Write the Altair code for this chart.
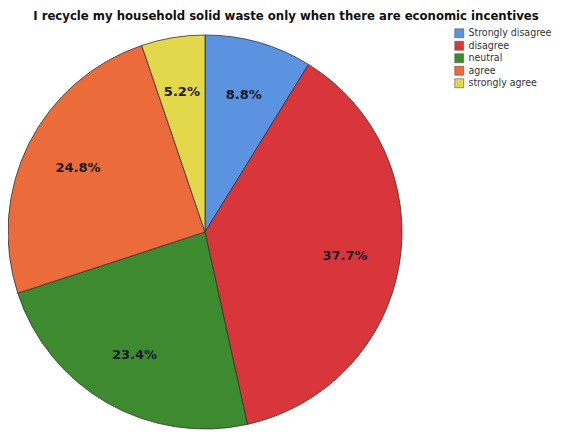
import altair as alt
import pandas as pd

categories = ["Strongly disagree", "disagree", "neutral", "agree", "strongly agree"]
percents = [8.8, 37.7, 23.4, 24.8, 5.2]
colors = ["#5b93e0", "#d8363a", "#3e8a2f", "#ec6b3b", "#e3d74c"]

df = pd.DataFrame({
    "category": categories,
    "percent": percents,
    "order": list(range(len(categories))),
})
df["label"] = df["percent"].map(lambda v: f"{v:.1f}%")

CX, CY, R = 197, 224, 197

base = alt.Chart(df).encode(
    theta=alt.Theta("percent:Q", stack=True),
    order=alt.Order("order:Q", sort="ascending"),
)

arcs = base.mark_arc(radius=R, stroke="#333333", strokeWidth=0.8).encode(
    x=alt.value(CX),
    y=alt.value(CY),
    color=alt.Color(
        "category:N",
        sort=categories,
        scale=alt.Scale(domain=categories, range=colors),
        legend=alt.Legend(
            title=None,
            orient="none",
            legendX=446,
            legendY=20,
            symbolType="square",
            symbolSize=80,
            symbolStrokeColor="#555555",
            symbolStrokeWidth=0.6,
            labelFontSize=10.5,
            labelFont="DejaVu Sans Condensed",
            labelColor="#333333",
            rowPadding=0.5,
            labelLimit=200,
        ),
    ),
)

labels = base.mark_text(
    radius=142,
    font="DejaVu Sans",
    fontSize=13,
    fontWeight=600,
    color="#1a1a2a",
).encode(
    x=alt.value(CX),
    y=alt.value(CY),
    text="label:N",
)

chart = (
    alt.layer(arcs, labels)
    .properties(
        width=556,
        height=422,
        padding=0,
        autosize=alt.AutoSizeParams(type="none"),
        title=alt.Title(
            "I recycle my household solid waste only when there are economic incentives",
            anchor="middle",
            font="DejaVu Sans Condensed",
            fontSize=13,
            fontWeight="bold",
            color="#111111",
            offset=-15,
        ),
    )
    .configure_view(stroke=None, fill=None)
)

chart.save("out.html", embed_options={"renderer": "svg", "actions": False})
